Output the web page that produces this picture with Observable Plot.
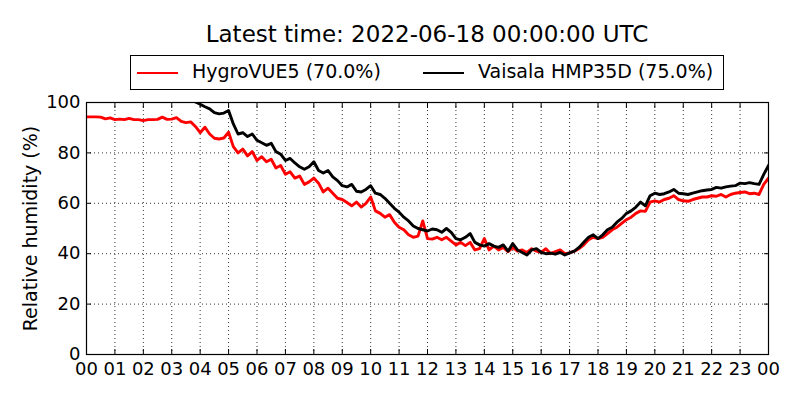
<!DOCTYPE html>
<html>
<head>
<meta charset="utf-8">
<script src="https://cdn.jsdelivr.net/npm/d3@7"></script>
<script src="https://cdn.jsdelivr.net/npm/@observablehq/plot@0.6"></script>
<style>
  html, body { margin: 0; padding: 0; background: #fff; }
  #wrap { position: relative; width: 800px; height: 400px; font-family: "DejaVu Sans", sans-serif; color: #000; }
  #title { position: absolute; left: 86px; width: 682px; top: 23px; text-align: center; font-size: 23px; line-height: 23px; white-space: nowrap; }
  #legend { position: absolute; left: 130px; top: 55px; width: 592px; height: 33px; border: 1px solid #000; background: #fff; }
  .swatch { position: absolute; top: 16px; width: 41px; height: 0; border-top: 2.6px solid; }
  .ltxt { position: absolute; top: 6px; font-size: 19px; line-height: 19px; white-space: nowrap; }
  #chart { position: absolute; left: 0; top: 92px; }
</style>
</head>
<body>
<div id="wrap">
  <div id="title"></div>
  <div id="legend"></div>
  <div id="chart"></div>
</div>
<script>
// ---- data -------------------------------------------------------------
const titleText = "Latest time: 2022-06-18 00:00:00 UTC";
const yLabel = "Relative humidity (%)";
const seriesNames = ["HygroVUE5", "Vaisala HMP35D"];
const seriesColors = ["red", "black"];
const stepMinutes = 10; // sampling interval of the arrays below, starting 00:00
const xTickLabels = ["00","01","02","03","04","05","06","07","08","09","10","11",
                     "12","13","14","15","16","17","18","19","20","21","22","23","00"];
const yTicks = [0, 20, 40, 60, 80, 100];

// HygroVUE5 relative humidity (%), every 10 minutes
const hygroVUE5 = [
  94.3, 94.3, 94.3, 94.2, 93.5, 93.9, 93.2, 93.4, 93.2, 93.7, 93.2, 93.2,
  92.8, 93.2, 93.2, 93.3, 94.2, 93.3, 93.4, 94.0, 92.5, 92.0, 92.3, 90.5,
  88.0, 90.2, 87.5, 85.8, 85.5, 85.9, 88.2, 82.5, 80.0, 81.5, 78.8, 80.5,
  77.0, 78.5, 76.5, 77.5, 74.0, 75.0, 71.5, 72.5, 70.0, 70.8, 67.5, 68.5,
  70.0, 68.0, 64.5, 66.0, 64.0, 62.0, 61.5, 60.3, 59.0, 60.5, 58.5, 60.0,
  62.5, 57.0, 56.0, 54.5, 55.5, 52.5, 50.5, 49.5, 47.5, 46.5, 47.0, 53.0,
  46.0, 45.8, 46.5, 45.5, 46.5, 45.0, 43.5, 44.5, 43.2, 44.5, 41.5, 42.0,
  46.0, 41.5, 43.0, 41.5, 42.5, 40.8, 42.5, 41.0, 41.5, 40.5, 42.0, 41.0,
  40.5, 42.0, 40.0, 40.8, 41.5, 40.0, 40.3, 41.0, 42.0, 43.5, 45.5, 46.5,
  46.0, 46.5, 48.0, 49.5, 50.5, 52.0, 53.5, 54.5, 56.0, 57.0, 56.8, 60.5,
  61.0, 60.5, 61.5, 62.0, 63.0, 61.5, 61.0, 60.8, 61.5, 62.0, 62.5, 62.5,
  63.0, 62.8, 63.5, 62.5, 63.5, 64.0, 64.3, 64.5, 63.8, 64.0, 63.5, 67.5,
  70.0
];

// Vaisala HMP35D relative humidity (%), every 10 minutes (above 100 = off the chart)
const vaisalaHMP35D = [
  102.8, 102.9, 103.0, 102.9, 102.8, 102.9, 103.0, 102.9, 102.8, 102.9, 102.8, 102.7,
  102.6, 102.6, 102.5, 102.4, 102.4, 102.3, 102.2, 102.0, 101.8, 101.5, 101.0, 100.2,
  99.3, 98.3, 97.5, 96.0, 95.5, 95.8, 96.8, 91.5, 87.5, 88.0, 86.5, 87.5,
  85.0, 84.0, 83.0, 83.8, 80.5, 79.5, 77.0, 77.8, 76.0, 74.5, 73.5, 74.5,
  76.5, 73.0, 72.0, 73.0, 70.5, 69.0, 67.0, 66.5, 67.5, 64.8, 64.5, 65.5,
  67.0, 64.0, 63.5, 62.0, 60.0, 58.0, 56.5, 54.5, 53.0, 51.0, 50.0, 49.5,
  49.0, 49.8, 49.5, 48.5, 50.0, 48.5, 46.0, 45.5, 46.5, 48.0, 44.5, 43.5,
  43.0, 44.0, 43.0, 42.5, 43.5, 41.0, 44.0, 41.5, 40.5, 39.5, 41.5, 42.0,
  40.5, 40.0, 40.2, 39.8, 40.5, 39.5, 40.3, 41.0, 42.5, 44.5, 46.5, 47.5,
  46.0, 47.5, 49.5, 50.5, 52.5, 54.0, 56.0, 57.0, 58.5, 60.5, 59.0, 63.0,
  64.0, 63.5, 63.8, 64.5, 65.5, 64.0, 63.8, 63.5, 64.0, 64.5, 65.0, 65.3,
  65.5, 66.3, 66.0, 66.5, 66.8, 67.0, 68.0, 67.8, 68.2, 67.8, 67.5, 71.5,
  75.0
];

// ---- build -----------------------------------------------------------
const toRows = (vals) => vals.map((v, i) => ({ h: i * stepMinutes / 60, v }));
const redRows = toRows(hygroVUE5);
const blackRows = toRows(vaisalaHMP35D);
const hourTicks = xTickLabels.map((_, i) => i);
const last = (a) => a[a.length - 1];

document.getElementById("title").textContent = titleText;

const legend = document.getElementById("legend");
const legendItems = [
  { name: seriesNames[0], color: seriesColors[0], value: last(hygroVUE5), sw: 6, tx: 61 },
  { name: seriesNames[1], color: seriesColors[1], value: last(vaisalaHMP35D), sw: 292, tx: 347 }
];
for (const it of legendItems) {
  const s = document.createElement("div");
  s.className = "swatch";
  s.style.left = it.sw + "px";
  s.style.borderTopColor = it.color;
  legend.appendChild(s);
  const t = document.createElement("div");
  t.className = "ltxt";
  t.style.left = it.tx + "px";
  t.textContent = `${it.name} (${it.value.toFixed(1)}%)`;
  legend.appendChild(t);
}

const dotted = { stroke: "black", strokeOpacity: 1, strokeWidth: 0.8, strokeDasharray: "1,3" };

const chart = Plot.plot({
  width: 800,
  height: 308,
  marginTop: 10,
  marginBottom: 46,
  marginLeft: 86,
  marginRight: 32,
  style: { fontFamily: "DejaVu Sans, sans-serif", fontSize: "18px", color: "black", background: "white", overflow: "visible" },
  x: { type: "linear", domain: [0, 24] },
  y: { domain: [0, 100] },
  marks: [
    Plot.gridX(hourTicks.slice(1, -1), { ...dotted }),
    Plot.gridY(yTicks.slice(1, -1), { ...dotted }),
    Plot.line(redRows, { x: "h", y: "v", stroke: seriesColors[0], strokeWidth: 2.9, clip: true }),
    Plot.line(blackRows, { x: "h", y: "v", stroke: seriesColors[1], strokeWidth: 2.9, clip: true }),
    Plot.frame({ stroke: "black", strokeWidth: 1.2 }),
    // tick labels
    Plot.axisX(hourTicks, { anchor: "bottom", tickSize: 0, tickPadding: 8, tickFormat: (d) => xTickLabels[d], label: null, fontSize: 18 }),
    Plot.axisY(yTicks, { anchor: "left", tickSize: 0, tickPadding: 6, label: null, fontSize: 18 }),
    // inward ticks on all four sides
    Plot.axisX(hourTicks, { anchor: "bottom", tickSize: -5, text: null, label: null }),
    Plot.axisX(hourTicks, { anchor: "top", tickSize: -5, text: null, label: null }),
    Plot.axisY(yTicks, { anchor: "left", tickSize: -5, text: null, label: null }),
    Plot.axisY(yTicks, { anchor: "right", tickSize: -5, text: null, label: null }),
    // y axis title
    Plot.text([yLabel], { text: (d) => d, frameAnchor: "left", textAnchor: "middle", lineAnchor: "middle", rotate: -90, dx: -56, fontSize: 19 })
  ]
});
document.getElementById("chart").appendChild(chart);
</script>
</body>
</html>
